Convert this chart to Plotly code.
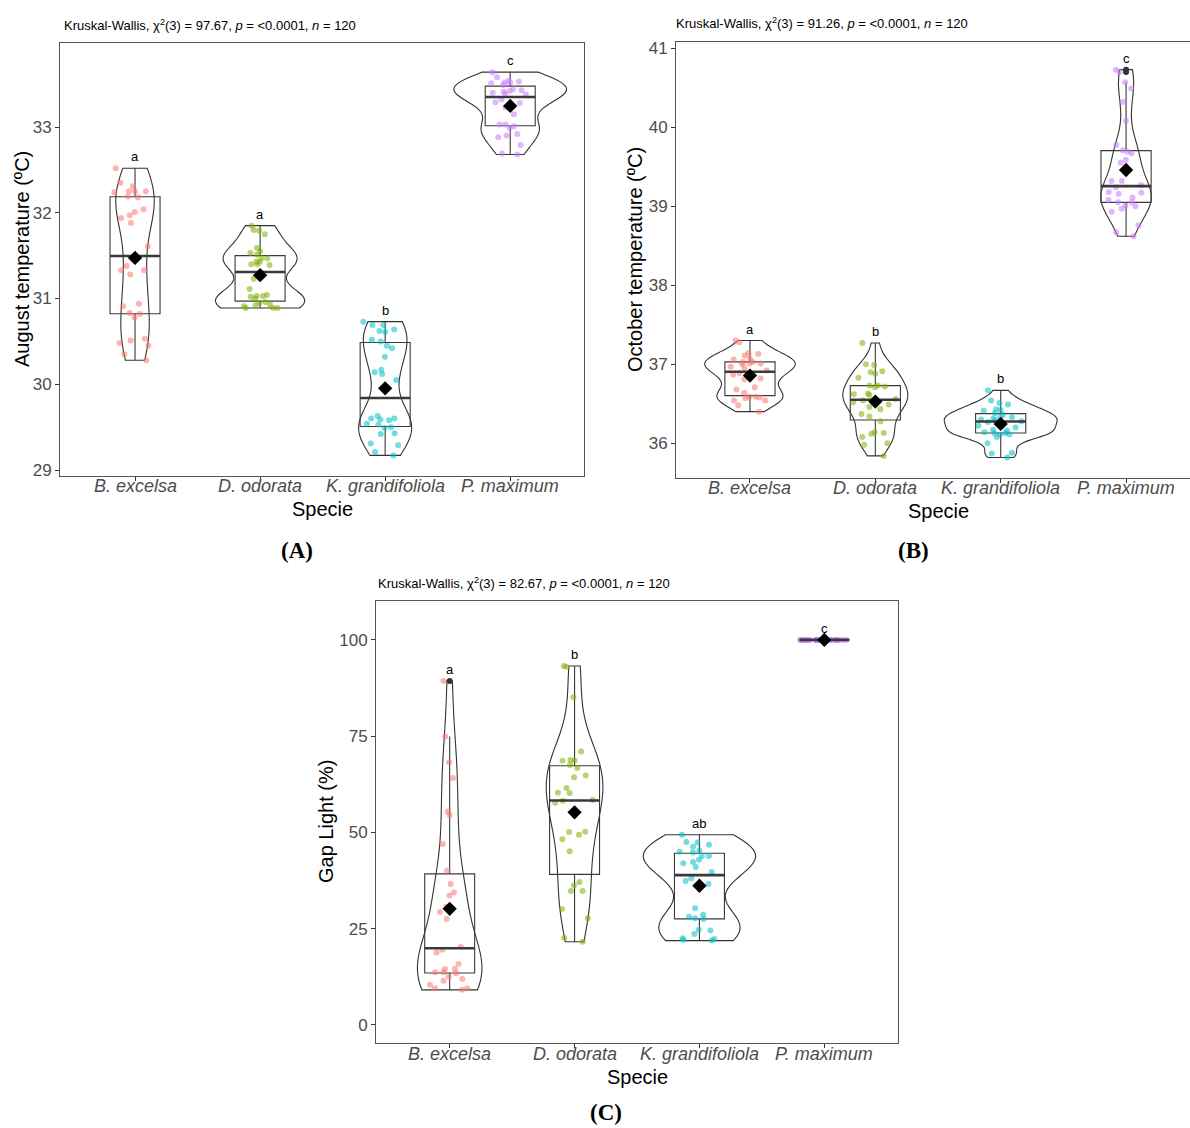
import numpy as np
import plotly.graph_objects as go

# ---------------- data ----------------
species = ["B. excelsa", "D. odorata", "K. grandifoliola", "P. maximum"]
colors = ["#F8766D", "#7CAE00", "#00BFC4", "#C77CFF"]

aug_b_excelsa = [32.52, 32.35, 32.31, 32.25, 32.25, 32.25, 32.24, 32.19, 32.18, 32.04,
                 32.01, 31.97, 31.94, 31.88, 31.61, 31.38, 31.33, 31.33, 31.28, 30.94,
                 30.91, 30.83, 30.82, 30.78, 30.53, 30.51, 30.48, 30.45, 30.35, 30.28]
aug_d_odorata = [31.85, 31.80, 31.79, 31.75, 31.59, 31.55, 31.53, 31.51, 31.47, 31.47,
                 31.43, 31.43, 31.40, 31.40, 31.39, 31.23, 31.11, 31.04, 31.03, 31.03,
                 31.02, 31.00, 30.96, 30.95, 30.93, 30.92, 30.91, 30.89, 30.89, 30.89]
aug_k_grandifoliola = [30.73, 30.69, 30.69, 30.64, 30.62, 30.61, 30.52, 30.50, 30.45, 30.42,
                       30.32, 30.17, 30.14, 30.12, 30.05, 29.63, 29.60, 29.60, 29.59, 29.58,
                       29.54, 29.53, 29.50, 29.49, 29.43, 29.42, 29.31, 29.29, 29.21, 29.17]
aug_p_maximum = [33.64, 33.58, 33.54, 33.53, 33.52, 33.52, 33.51, 33.49, 33.44, 33.43,
                 33.42, 33.41, 33.40, 33.39, 33.38, 33.32, 33.29, 33.28, 33.23, 33.15,
                 33.03, 33.03, 33.01, 32.99, 32.92, 32.90, 32.88, 32.79, 32.69, 32.68]

oct_b_excelsa = [37.30, 37.28, 37.14, 37.13, 37.11, 37.07, 37.06, 37.03, 37.03, 37.01,
                 37.01, 37.00, 36.97, 36.95, 36.92, 36.89, 36.87, 36.82, 36.81, 36.71,
                 36.68, 36.64, 36.59, 36.59, 36.58, 36.57, 36.54, 36.54, 36.48, 36.40]
oct_d_odorata = [37.27, 37.00, 36.99, 36.91, 36.90, 36.88, 36.83, 36.73, 36.73, 36.72,
                 36.71, 36.63, 36.62, 36.61, 36.56, 36.54, 36.52, 36.49, 36.46, 36.43,
                 36.37, 36.34, 36.28, 36.14, 36.13, 36.12, 36.08, 36.00, 35.98, 35.84]
oct_k_grandifoliola = [36.67, 36.54, 36.51, 36.49, 36.43, 36.42, 36.41, 36.38, 36.36, 36.33,
                       36.33, 36.31, 36.30, 36.29, 36.28, 36.27, 36.22, 36.20, 36.17, 36.16,
                       36.14, 36.13, 36.13, 36.11, 36.11, 36.08, 36.00, 35.88, 35.87, 35.82]
oct_p_maximum = [40.73, 40.70, 40.57, 40.49, 40.32, 40.08, 39.78, 39.71, 39.69, 39.67,
                 39.59, 39.55, 39.32, 39.32, 39.27, 39.24, 39.18, 39.17, 39.16, 39.11,
                 39.08, 39.05, 39.05, 39.01, 39.00, 38.97, 38.93, 38.76, 38.67, 38.62]

gap_b_excelsa = [89.35, 74.9, 68.2, 64.1, 55.4, 54.5, 47.0, 40.1, 36.6, 34.4,
                 33.6, 30.7, 29.3, 27.5, 20.3, 19.5, 18.8, 15.8, 14.5, 14.5,
                 13.7, 13.7, 13.4, 12.6, 11.9, 11.5, 10.4, 9.5, 9.5, 9.1]
gap_d_odorata = [93.2, 93.0, 85.1, 71.0, 68.8, 68.7, 68.6, 67.5, 66.7, 64.8,
                 64.3, 61.5, 60.3, 60.2, 58.4, 58.2, 57.7, 50.2, 50.1, 49.4,
                 48.2, 45.1, 37.1, 36.3, 34.8, 34.8, 30.1, 27.7, 22.6, 21.6]
gap_k_grandifoliola = [49.4, 47.5, 47.4, 46.8, 46.3, 45.3, 45.0, 44.8, 43.9, 43.9,
                       42.9, 42.3, 42.0, 41.0, 39.7, 38.1, 37.4, 36.6, 30.3, 28.6,
                       28.1, 27.7, 27.5, 24.7, 24.5, 23.6, 22.5, 22.3, 22.1, 21.9]
gap_p_maximum = [100, 100, 100, 100, 100, 100, 100, 100, 100, 100,
                 100, 100, 100, 100, 100, 100, 100, 100, 100, 100,
                 100, 100, 100, 100, 100, 100, 100, 100, 100, 100]

letters_aug = ["a", "a", "b", "c"]
letters_oct = ["a", "b", "b", "c"]
letters_gap = ["a", "b", "ab", "c"]

chi2_values = [97.67, 91.26, 82.67]
n_total = 120
y_titles = ["August temperature (ºC)", "October temperature (ºC)", "Gap Light (%)"]
y_ticks_aug = [29, 30, 31, 32, 33]
y_ticks_oct = [36, 37, 38, 39, 40, 41]
y_ticks_gap = [0, 25, 50, 75, 100]
panel_labels = ["(A)", "(B)", "(C)"]

# ---------------- layout helpers ----------------
W, H = 1190, 1128
def fx(px):
    return px / W
def fy(py):
    return 1 - py / H

FONT = "Liberation Sans, Arial, sans-serif"

panels = [
    dict(groups=[aug_b_excelsa, aug_d_odorata, aug_k_grandifoliola, aug_p_maximum],
         letters=letters_aug, ticks=y_ticks_aug, box=(60, 43, 584, 476),
         yrange=[28.93, 33.98], xrange=[-0.6, 3.59], xlab_y=486,
         title_pos=(62, 25), ytitle_pos=(22, 259), xtitle_pos=(322, 509), label_pos=(297, 550)),
    dict(groups=[oct_b_excelsa, oct_d_odorata, oct_k_grandifoliola, oct_p_maximum],
         letters=letters_oct, ticks=y_ticks_oct, box=(676, 42, 1190, 478),
         yrange=[35.56, 41.08], xrange=[-0.59, 3.51], xlab_y=488,
         title_pos=(674, 23), ytitle_pos=(635, 260), xtitle_pos=(938, 511), label_pos=(913, 550)),
    dict(groups=[gap_b_excelsa, gap_d_odorata, gap_k_grandifoliola, gap_p_maximum],
         letters=letters_gap, ticks=y_ticks_gap, box=(376, 601, 898, 1043),
         yrange=[-4.7, 110.1], xrange=[-0.59, 3.59], xlab_y=1054,
         title_pos=(376, 583), ytitle_pos=(326, 822), xtitle_pos=(637, 1077), label_pos=(606, 1112)),
]


def nrd0(v):
    q1, q3 = np.percentile(v, [25, 75])
    sd = np.std(v, ddof=1)
    lo = min(sd, (q3 - q1) / 1.34) if (q3 - q1) > 0 else sd
    return 0.9 * lo * len(v) ** (-0.2)


def max_density(v, bw):
    grid = np.linspace(v.min(), v.max(), 512)
    d = np.exp(-0.5 * ((grid[:, None] - v[None, :]) / bw) ** 2).sum(axis=1)
    return (d / (len(v) * bw * np.sqrt(2 * np.pi))).max()


fig = go.Figure()
annotations = []
layout_axes = {}

for p_idx, p in enumerate(panels):
    sfx = "" if p_idx == 0 else str(p_idx + 1)
    xa, ya = "x" + sfx, "y" + sfx
    groups = p["groups"]

    # violins: ggplot's default "area" scaling -> width proportional to peak density
    stats = []
    for vals in groups:
        v = np.array(vals, dtype=float)
        if np.ptp(v) == 0:
            stats.append(None)
            continue
        bw = nrd0(v)
        stats.append((bw, max_density(v, bw)))
    peak = max(s[1] for s in stats if s is not None)
    for i, vals in enumerate(groups):
        if stats[i] is None:
            continue
        bw, md = stats[i]
        fig.add_trace(go.Violin(
            x=[i] * len(vals), y=vals, xaxis=xa, yaxis=ya, width=0.9 * md / peak,
            scalegroup="v%d_%d" % (p_idx, i), scalemode="width", spanmode="hard",
            bandwidth=bw, points=False, fillcolor="rgba(255,255,255,0)",
            line=dict(color="#333333", width=1.1), hoverinfo="skip", showlegend=False))

    # boxes (stats computed as ggplot does)
    for i, vals in enumerate(groups):
        v = np.array(vals, dtype=float)
        q1, med, q3 = np.percentile(v, [25, 50, 75])
        iqr = q3 - q1
        lo_f, hi_f = q1 - 1.5 * iqr, q3 + 1.5 * iqr
        wl = v[v >= lo_f].min()
        wh = v[v <= hi_f].max()
        fig.add_trace(go.Box(
            x=[i], q1=[q1], median=[med], q3=[q3], lowerfence=[wl], upperfence=[wh],
            xaxis=xa, yaxis=ya, width=0.4, whiskerwidth=0, fillcolor="rgba(255,255,255,0)",
            line=dict(color="#3a3a3a", width=1.1), boxpoints=False,
            hoverinfo="skip", showlegend=False))

    # jittered points (plotly's own jitter)
    for i, vals in enumerate(groups):
        fig.add_trace(go.Box(
            x=[i] * len(vals), y=vals, xaxis=xa, yaxis=ya, width=0.4, whiskerwidth=0,
            boxpoints="all", jitter=1.0, pointpos=0,
            fillcolor="rgba(0,0,0,0)", line=dict(width=0, color="rgba(0,0,0,0)"),
            marker=dict(color=colors[i], size=6, opacity=0.55, line=dict(width=0)),
            hoverinfo="skip", showlegend=False))

    # medians (thick), outliers, means, letters
    for i, vals in enumerate(groups):
        v = np.array(vals, dtype=float)
        q1, med, q3 = np.percentile(v, [25, 50, 75])
        iqr = q3 - q1
        out = v[(v < q1 - 1.5 * iqr) | (v > q3 + 1.5 * iqr)]
        fig.add_trace(go.Scatter(
            x=[i - 0.2, i + 0.2], y=[med, med], xaxis=xa, yaxis=ya, mode="lines",
            line=dict(color="#3a3a3a", width=2.6), hoverinfo="skip", showlegend=False))
        if len(out):
            fig.add_trace(go.Scatter(
                x=[i] * len(out), y=out, xaxis=xa, yaxis=ya, mode="markers",
                marker=dict(color="#333333", size=6), hoverinfo="skip", showlegend=False))
        fig.add_trace(go.Scatter(
            x=[i], y=[v.mean()], xaxis=xa, yaxis=ya, mode="markers",
            marker=dict(symbol="diamond", color="black", size=11),
            hoverinfo="skip", showlegend=False))
        annotations.append(dict(
            x=i, y=v.max(), xref=xa, yref=ya, text=p["letters"][i], showarrow=False,
            yanchor="bottom", yshift=2, font=dict(size=13, color="black", family=FONT)))
        # category (tick) labels
        annotations.append(dict(
            x=i, y=fy(p["xlab_y"]), xref=xa, yref="paper", xanchor="center", yanchor="middle",
            showarrow=False, text="<i>" + species[i] + "</i>",
            font=dict(size=18, color="#4d4d4d", family=FONT)))

    x0, y0, x1, y1 = p["box"]
    common = dict(showgrid=False, zeroline=False, showline=True, mirror=True,
                  linecolor="#555555", linewidth=1, ticks="outside", ticklen=4,
                  tickcolor="#333333", tickwidth=1)
    layout_axes["xaxis" + sfx] = dict(
        domain=[fx(x0), min(1.0, fx(x1))], anchor=ya, range=p["xrange"],
        tickvals=[0, 1, 2, 3], showticklabels=False, **common)
    layout_axes["yaxis" + sfx] = dict(
        domain=[fy(y1), fy(y0)], anchor=xa, range=p["yrange"],
        tickvals=p["ticks"], tickfont=dict(size=17, color="#4d4d4d", family=FONT), **common)

    tx, ty = p["title_pos"]
    annotations.append(dict(
        x=fx(tx), y=fy(ty), xref="paper", yref="paper", xanchor="left", yanchor="middle",
        showarrow=False, font=dict(size=13, color="black", family=FONT),
        text="Kruskal-Wallis, χ<sup>2</sup>(3) = %.2f, <i>p</i> = &lt;0.0001, <i>n</i> = %d"
             % (chi2_values[p_idx], n_total)))
    yx, yy = p["ytitle_pos"]
    annotations.append(dict(
        x=fx(yx), y=fy(yy), xref="paper", yref="paper", xanchor="center", yanchor="middle",
        textangle=-90, showarrow=False, text=y_titles[p_idx],
        font=dict(size=20, color="black", family=FONT)))
    sx, sy = p["xtitle_pos"]
    annotations.append(dict(
        x=fx(sx), y=fy(sy), xref="paper", yref="paper", xanchor="center", yanchor="middle",
        showarrow=False, text="Specie", font=dict(size=20, color="black", family=FONT)))
    lx, ly = p["label_pos"]
    annotations.append(dict(
        x=fx(lx), y=fy(ly), xref="paper", yref="paper", xanchor="center", yanchor="middle",
        showarrow=False, text="<b>" + panel_labels[p_idx] + "</b>",
        font=dict(size=23, color="black", family="Liberation Serif, DejaVu Serif, serif")))

fig.update_layout(
    template="none", width=W, height=H, margin=dict(l=0, r=0, t=0, b=0),
    paper_bgcolor="white", plot_bgcolor="white", showlegend=False,
    boxmode="overlay", violinmode="overlay", annotations=annotations, **layout_axes)

fig.write_html("out.html", config={"displayModeBar": False},
               post_script="document.body.style.margin='0';document.body.style.overflow='hidden';")
